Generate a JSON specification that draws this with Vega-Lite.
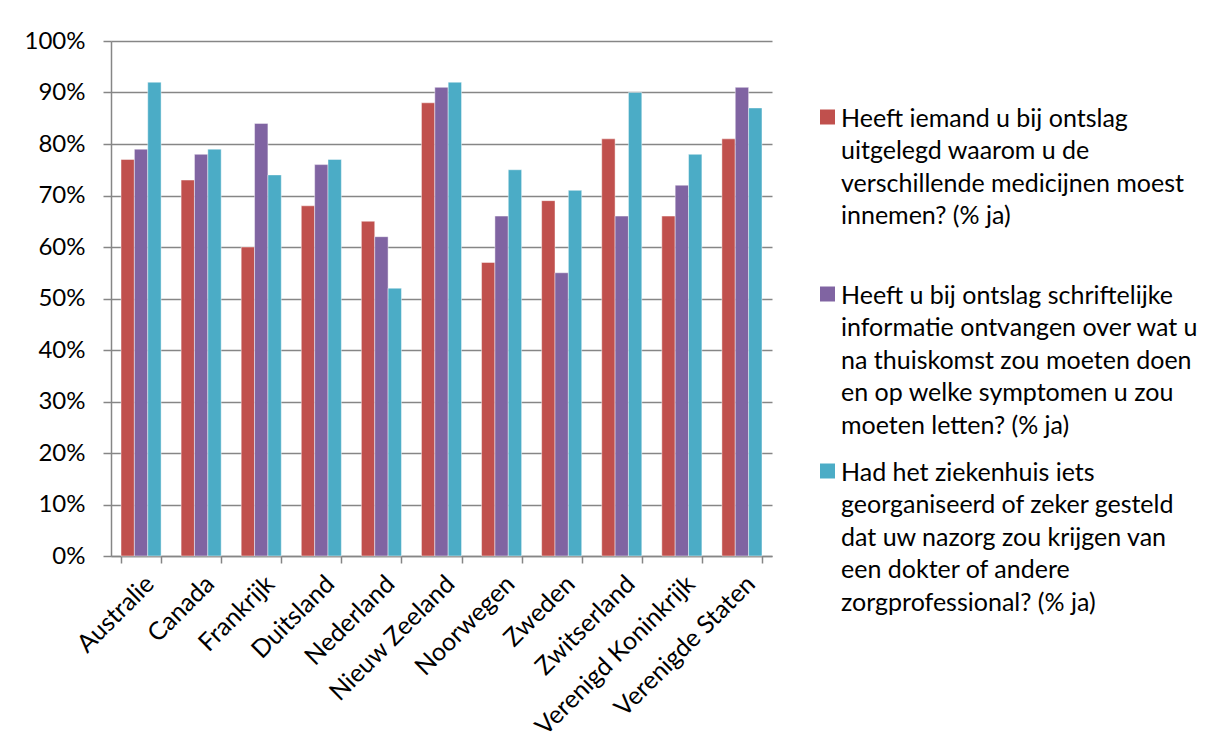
{
  "$schema": "https://vega.github.io/schema/vega-lite/v6.json",
  "width": 661,
  "height": 515,
  "autosize": {"type": "none"},
  "padding": {"left": 111, "top": 41, "right": 443, "bottom": 200},
  "background": "white",
  "config": {
    "font": "Lato",
    "view": {"stroke": null},
    "style": {"guide-label": {"lineHeight": 32.5}},
    "axis": {"labelFont": "Lato", "labelColor": "#000000", "labelFontSize": 24, "domainColor": "#868686", "tickColor": "#868686", "gridColor": "#868686", "gridWidth": 1.5, "domainWidth": 1.5, "tickWidth": 1.5}
  },
  "data": {"values": [
    {"land": "Australie", "reeks": "Heeft iemand u bij ontslag uitgelegd waarom u de verschillende medicijnen moest innemen? (% ja)", "waarde": 0.77},
    {"land": "Australie", "reeks": "Heeft u bij ontslag schriftelijke informatie ontvangen over wat u na thuiskomst zou moeten doen en op welke symptomen u zou moeten letten? (% ja)", "waarde": 0.79},
    {"land": "Australie", "reeks": "Had het ziekenhuis iets georganiseerd of zeker gesteld dat uw nazorg zou krijgen van een dokter of andere zorgprofessional? (% ja)", "waarde": 0.92},
    {"land": "Canada", "reeks": "Heeft iemand u bij ontslag uitgelegd waarom u de verschillende medicijnen moest innemen? (% ja)", "waarde": 0.73},
    {"land": "Canada", "reeks": "Heeft u bij ontslag schriftelijke informatie ontvangen over wat u na thuiskomst zou moeten doen en op welke symptomen u zou moeten letten? (% ja)", "waarde": 0.78},
    {"land": "Canada", "reeks": "Had het ziekenhuis iets georganiseerd of zeker gesteld dat uw nazorg zou krijgen van een dokter of andere zorgprofessional? (% ja)", "waarde": 0.79},
    {"land": "Frankrijk", "reeks": "Heeft iemand u bij ontslag uitgelegd waarom u de verschillende medicijnen moest innemen? (% ja)", "waarde": 0.60},
    {"land": "Frankrijk", "reeks": "Heeft u bij ontslag schriftelijke informatie ontvangen over wat u na thuiskomst zou moeten doen en op welke symptomen u zou moeten letten? (% ja)", "waarde": 0.84},
    {"land": "Frankrijk", "reeks": "Had het ziekenhuis iets georganiseerd of zeker gesteld dat uw nazorg zou krijgen van een dokter of andere zorgprofessional? (% ja)", "waarde": 0.74},
    {"land": "Duitsland", "reeks": "Heeft iemand u bij ontslag uitgelegd waarom u de verschillende medicijnen moest innemen? (% ja)", "waarde": 0.68},
    {"land": "Duitsland", "reeks": "Heeft u bij ontslag schriftelijke informatie ontvangen over wat u na thuiskomst zou moeten doen en op welke symptomen u zou moeten letten? (% ja)", "waarde": 0.76},
    {"land": "Duitsland", "reeks": "Had het ziekenhuis iets georganiseerd of zeker gesteld dat uw nazorg zou krijgen van een dokter of andere zorgprofessional? (% ja)", "waarde": 0.77},
    {"land": "Nederland", "reeks": "Heeft iemand u bij ontslag uitgelegd waarom u de verschillende medicijnen moest innemen? (% ja)", "waarde": 0.65},
    {"land": "Nederland", "reeks": "Heeft u bij ontslag schriftelijke informatie ontvangen over wat u na thuiskomst zou moeten doen en op welke symptomen u zou moeten letten? (% ja)", "waarde": 0.62},
    {"land": "Nederland", "reeks": "Had het ziekenhuis iets georganiseerd of zeker gesteld dat uw nazorg zou krijgen van een dokter of andere zorgprofessional? (% ja)", "waarde": 0.52},
    {"land": "Nieuw Zeeland", "reeks": "Heeft iemand u bij ontslag uitgelegd waarom u de verschillende medicijnen moest innemen? (% ja)", "waarde": 0.88},
    {"land": "Nieuw Zeeland", "reeks": "Heeft u bij ontslag schriftelijke informatie ontvangen over wat u na thuiskomst zou moeten doen en op welke symptomen u zou moeten letten? (% ja)", "waarde": 0.91},
    {"land": "Nieuw Zeeland", "reeks": "Had het ziekenhuis iets georganiseerd of zeker gesteld dat uw nazorg zou krijgen van een dokter of andere zorgprofessional? (% ja)", "waarde": 0.92},
    {"land": "Noorwegen", "reeks": "Heeft iemand u bij ontslag uitgelegd waarom u de verschillende medicijnen moest innemen? (% ja)", "waarde": 0.57},
    {"land": "Noorwegen", "reeks": "Heeft u bij ontslag schriftelijke informatie ontvangen over wat u na thuiskomst zou moeten doen en op welke symptomen u zou moeten letten? (% ja)", "waarde": 0.66},
    {"land": "Noorwegen", "reeks": "Had het ziekenhuis iets georganiseerd of zeker gesteld dat uw nazorg zou krijgen van een dokter of andere zorgprofessional? (% ja)", "waarde": 0.75},
    {"land": "Zweden", "reeks": "Heeft iemand u bij ontslag uitgelegd waarom u de verschillende medicijnen moest innemen? (% ja)", "waarde": 0.69},
    {"land": "Zweden", "reeks": "Heeft u bij ontslag schriftelijke informatie ontvangen over wat u na thuiskomst zou moeten doen en op welke symptomen u zou moeten letten? (% ja)", "waarde": 0.55},
    {"land": "Zweden", "reeks": "Had het ziekenhuis iets georganiseerd of zeker gesteld dat uw nazorg zou krijgen van een dokter of andere zorgprofessional? (% ja)", "waarde": 0.71},
    {"land": "Zwitserland", "reeks": "Heeft iemand u bij ontslag uitgelegd waarom u de verschillende medicijnen moest innemen? (% ja)", "waarde": 0.81},
    {"land": "Zwitserland", "reeks": "Heeft u bij ontslag schriftelijke informatie ontvangen over wat u na thuiskomst zou moeten doen en op welke symptomen u zou moeten letten? (% ja)", "waarde": 0.66},
    {"land": "Zwitserland", "reeks": "Had het ziekenhuis iets georganiseerd of zeker gesteld dat uw nazorg zou krijgen van een dokter of andere zorgprofessional? (% ja)", "waarde": 0.90},
    {"land": "Verenigd Koninkrijk", "reeks": "Heeft iemand u bij ontslag uitgelegd waarom u de verschillende medicijnen moest innemen? (% ja)", "waarde": 0.66},
    {"land": "Verenigd Koninkrijk", "reeks": "Heeft u bij ontslag schriftelijke informatie ontvangen over wat u na thuiskomst zou moeten doen en op welke symptomen u zou moeten letten? (% ja)", "waarde": 0.72},
    {"land": "Verenigd Koninkrijk", "reeks": "Had het ziekenhuis iets georganiseerd of zeker gesteld dat uw nazorg zou krijgen van een dokter of andere zorgprofessional? (% ja)", "waarde": 0.78},
    {"land": "Verenigde Staten", "reeks": "Heeft iemand u bij ontslag uitgelegd waarom u de verschillende medicijnen moest innemen? (% ja)", "waarde": 0.81},
    {"land": "Verenigde Staten", "reeks": "Heeft u bij ontslag schriftelijke informatie ontvangen over wat u na thuiskomst zou moeten doen en op welke symptomen u zou moeten letten? (% ja)", "waarde": 0.91},
    {"land": "Verenigde Staten", "reeks": "Had het ziekenhuis iets georganiseerd of zeker gesteld dat uw nazorg zou krijgen van een dokter of andere zorgprofessional? (% ja)", "waarde": 0.87}
  ]},
  "mark": {"type": "bar", "stroke": "white", "strokeWidth": 0.75, "strokeOpacity": 0.6},
  "encoding": {
    "x": {
      "field": "land", "type": "nominal", "sort": null,
      "scale": {"paddingInner": 0.333, "paddingOuter": 0.1667},
      "axis": {"title": null, "labelAngle": -45, "labelFontSize": 25, "labelLimit": 400, "tickBand": "extent", "tickSize": 7, "labelPadding": 8, "grid": false}
    },
    "xOffset": {
      "field": "reeks", "type": "nominal", "sort": null,
      "scale": {"paddingInner": 0, "paddingOuter": 0}
    },
    "y": {
      "field": "waarde", "type": "quantitative",
      "scale": {"domain": [0, 1], "nice": false},
      "axis": {"title": null, "values": [0, 0.1, 0.2, 0.3, 0.4, 0.5, 0.6, 0.7, 0.8, 0.9, 1], "format": ".0%", "tickSize": 8, "labelPadding": 18, "grid": true}
    },
    "color": {
      "field": "reeks", "type": "nominal", "sort": null,
      "scale": {"range": ["#C0504D", "#8064A2", "#4BACC6"]},
      "legend": {
        "title": null,
        "orient": "none",
        "legendX": 704,
        "legendY": 53,
        "symbolType": "M-1,0.4L1,0.4L1,2.4L-1,2.4Z",
        "symbolSize": 225,
        "symbolStrokeWidth": 0,
        "labelFont": "Lato",
        "labelFontSize": 25,
        "labelColor": "#000000",
        "labelOffset": 1,
        "labelLimit": 420,
        "labelBaseline": "top",
        "gridAlign": "all",
        "rowPadding": 9,
        "labelExpr": "substring(datum.label, 0, 12) == 'Heeft iemand' ? ['Heeft iemand u bij ontslag', 'uitgelegd waarom u de', 'verschillende medicijnen moest', 'innemen? (% ja)'] : substring(datum.label, 0, 7) == 'Heeft u' ? ['Heeft u bij ontslag schriftelijke', 'informatie ontvangen over wat u', 'na thuiskomst zou moeten doen', 'en op welke symptomen u zou', 'moeten letten? (% ja)'] : ['Had het ziekenhuis iets', 'georganiseerd of zeker gesteld', 'dat uw nazorg zou krijgen van', 'een dokter of andere', 'zorgprofessional? (% ja)']"
      }
    }
  }
}
